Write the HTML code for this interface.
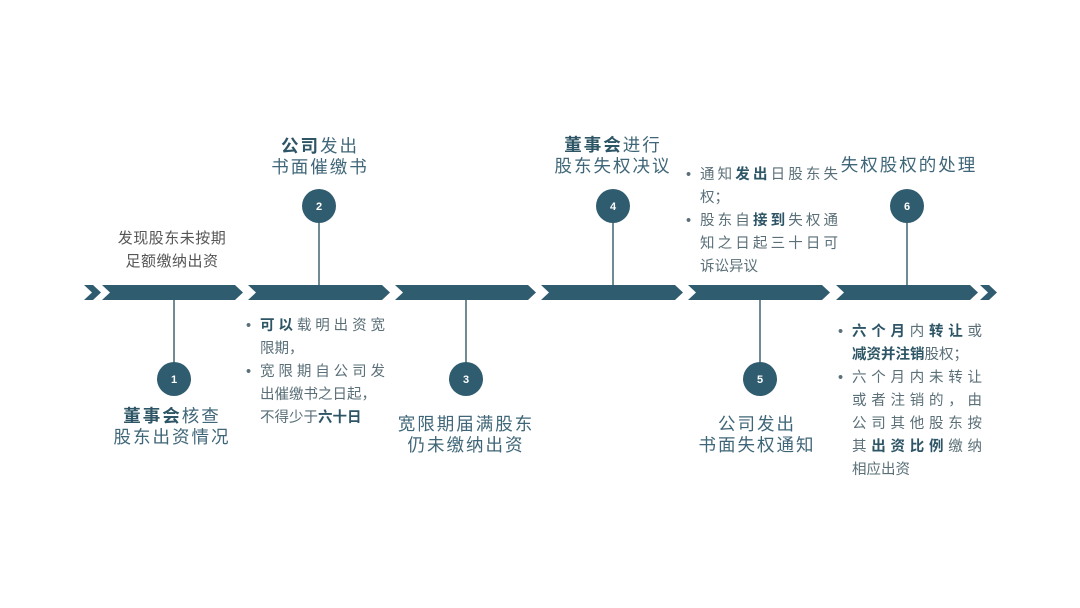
<!DOCTYPE html>
<html><head><meta charset="utf-8"><style>
body{margin:0;background:#fff;}
#c{position:relative;width:1080px;height:608px;overflow:hidden;font-family:"Liberation Sans","Noto Sans CJK SC",sans-serif;}
.t{position:absolute;text-align:center;white-space:nowrap;color:#3f6678;font-size:17.5px;letter-spacing:2px;line-height:21px;}
.t b{color:#2d5566;}
.g{color:#555;font-size:15px;letter-spacing:0.5px;line-height:23px;}
.bl{position:absolute;font-size:14.5px;color:#5a6f78;line-height:23px;}
.bl div{white-space:nowrap;height:23px;}
.bl .j{text-align:justify;text-align-last:justify;}
.bl b{color:#2d5566;}
.d{position:absolute;left:-14px;}
</style></head><body><div id="c">
<svg width="1080" height="608" style="position:absolute;left:0;top:0">
<g fill="#305c70">
<polygon points="84,285 93,285 101,292.5 93,300 84,300 92,292.5"/>
<polygon points="102,285 235,285 243,292.5 235,300 102,300 110,292.5"/>
<polygon points="248,285 382,285 390,292.5 382,300 248,300 256,292.5"/>
<polygon points="395,285 528,285 536,292.5 528,300 395,300 403,292.5"/>
<polygon points="541,285 675,285 683,292.5 675,300 541,300 549,292.5"/>
<polygon points="688,285 822,285 830,292.5 822,300 688,300 696,292.5"/>
<polygon points="836,285 970,285 978,292.5 970,300 836,300 844,292.5"/>
<polygon points="980,285 989,285 997,292.5 989,300 980,300 988,292.5"/>
</g>
<g stroke="#6f8c96" stroke-width="2">
<line x1="174" y1="300" x2="174" y2="365"/>
<line x1="319" y1="220" x2="319" y2="285"/>
<line x1="466" y1="300" x2="466" y2="365"/>
<line x1="613" y1="220" x2="613" y2="285"/>
<line x1="760" y1="300" x2="760" y2="365"/>
<line x1="907" y1="220" x2="907" y2="285"/>
</g>
<g fill="#305c70">
<circle cx="174" cy="379" r="17"/><circle cx="319" cy="206" r="17"/><circle cx="466" cy="379" r="17"/>
<circle cx="613" cy="206" r="17"/><circle cx="760" cy="379" r="17"/><circle cx="907" cy="206" r="17"/>
</g>
<g fill="#fff" font-size="11" font-weight="bold" text-anchor="middle" font-family="Liberation Sans">
<text x="174" y="383">1</text><text x="319" y="210">2</text><text x="466" y="383">3</text>
<text x="613" y="210">4</text><text x="760" y="383">5</text><text x="907" y="210">6</text>
</g>
</svg>
<div class="t g" style="left:92px;width:160px;top:227px">发现股东未按期<br>足额缴纳出资</div>
<div class="t" style="left:240px;width:160px;top:136px"><b>公司</b>发出<br>书面催缴书</div>
<div class="t" style="left:92px;width:160px;top:406px"><b>董事会</b>核查<br>股东出资情况</div>
<div class="t" style="left:386px;width:160px;top:414px">宽限期届满股东<br>仍未缴纳出资</div>
<div class="t" style="left:533px;width:160px;top:135px"><b>董事会</b>进行<br>股东失权决议</div>
<div class="t" style="left:677px;width:160px;top:414px">公司发出<br>书面失权通知</div>
<div class="t" style="left:829px;width:160px;top:155px">失权股权的处理</div>

<div class="bl" style="left:260px;top:315px;width:125px">
<div class="j" style="position:relative"><span class="d">•</span><b>可以</b>载明出资宽</div>
<div>限期，</div>
<div class="j" style="position:relative"><span class="d">•</span>宽限期自公司发</div>
<div>出催缴书之日起，</div>
<div>不得少于<b>六十日</b></div>
</div>

<div class="bl" style="left:700px;top:164px;width:138px">
<div class="j" style="position:relative"><span class="d">•</span>通知<b>发出</b>日股东失</div>
<div>权；</div>
<div class="j" style="position:relative"><span class="d">•</span>股东自<b>接到</b>失权通</div>
<div class="j">知之日起三十日可</div>
<div>诉讼异议</div>
</div>

<div class="bl" style="left:852px;top:321px;width:130px">
<div class="j" style="position:relative"><span class="d">•</span><b>六个月</b>内<b>转让</b>或</div>
<div><b>减资并注销</b>股权；</div>
<div class="j" style="position:relative"><span class="d">•</span>六个月内未转让</div>
<div class="j">或者注销的，由</div>
<div class="j">公司其他股东按</div>
<div class="j">其<b>出资比例</b>缴纳</div>
<div>相应出资</div>
</div>
</div></body></html>
